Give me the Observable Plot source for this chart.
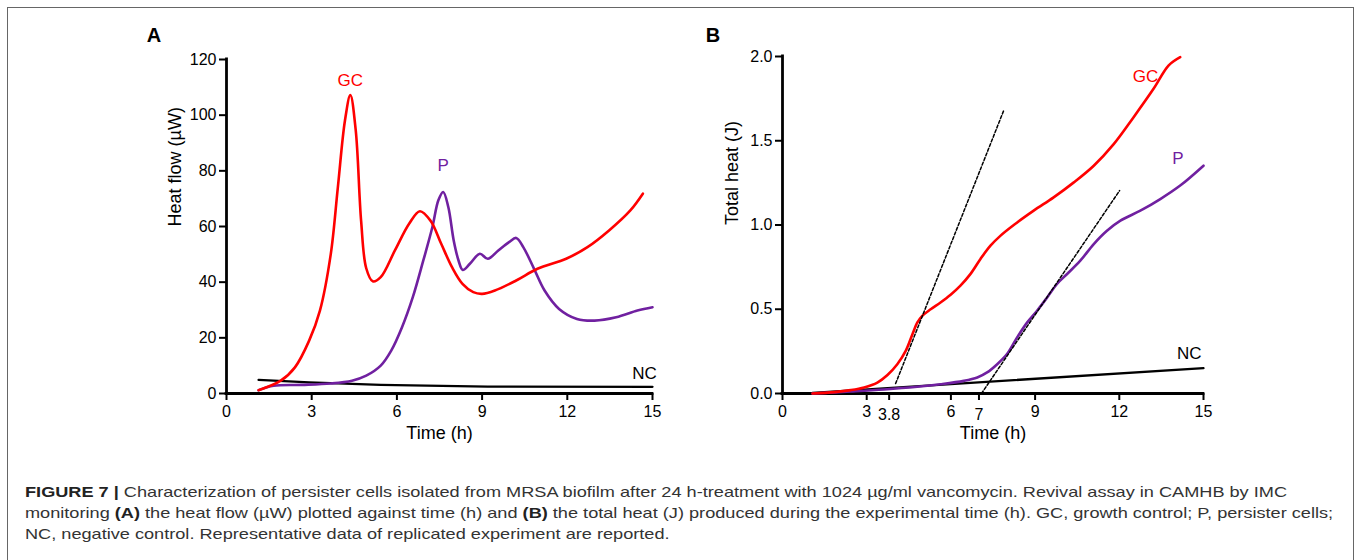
<!DOCTYPE html>
<html>
<head>
<meta charset="utf-8">
<script src="https://cdn.jsdelivr.net/npm/d3@7"></script>
<script src="https://cdn.jsdelivr.net/npm/@observablehq/plot@0.6"></script>
<style>
  html, body { margin: 0; padding: 0; background: #fff; width: 1357px; height: 560px; overflow: hidden; }
  body { position: relative; font-family: "Liberation Sans", Arial, sans-serif; }
  #frame { position: absolute; left: 7px; top: 7px; width: 1347px; height: 620px; border: 1.5px solid #666; box-sizing: border-box; }
  .panel { position: absolute; }
  .plabel { position: absolute; font-weight: bold; font-size: 20px; transform: translate(-50%, -50%); }
  #caption { position: absolute; left: 25px; top: 481px; font-size: 15px; line-height: 21px; color: #333; white-space: nowrap; transform-origin: 0 0; }
  #caption span { display: block; width: max-content; }
  #caption b { color: #222; }
</style>
</head>
<body>
<div id="frame"></div>
<div class="plabel" style="left:154px; top:35px;">A</div>
<div class="plabel" style="left:713px; top:35px;">B</div>
<div id="panelA" class="panel" style="left:130px; top:20px;"></div>
<div id="panelB" class="panel" style="left:700px; top:20px;"></div>
<div id="caption"><span id="cap1"><b>FIGURE 7 |</b> Characterization of persister cells isolated from MRSA biofilm after 24 h-treatment with 1024 µg/ml vancomycin. Revival assay in CAMHB by IMC</span><span>monitoring <b>(A)</b> the heat flow (µW) plotted against time (h) and <b>(B)</b> the total heat (J) produced during the experimental time (h). GC, growth control; P, persister cells;</span><span>NC, negative control. Representative data of replicated experiment are reported.</span></div>
<script>
// ---------- Data: panel A (heat flow, µW vs time, h) ----------
const flowGC = [[1.13,1.2],[1.91,4.6],[2.41,9.4],[2.91,19],[3.29,29.8],[3.67,50],[3.92,74],[4.17,98],[4.36,107.2],[4.55,94.6],[4.74,62],[4.92,45],[5.15,40.3],[5.43,41.8],[5.93,51.4],[6.43,61],[6.81,65.5],[7.19,62],[7.56,53.8],[7.94,45.4],[8.31,39.4],[8.69,36.4],[9.0,35.8],[9.45,37],[10.2,40.6],[10.95,44.8],[11.96,48.4],[12.71,52.6],[13.47,58.6],[14.22,65.8],[14.66,71.8]];
const flowP = [[1.13,1.2],[1.66,2.8],[2.66,3.1],[3.67,3.6],[4.42,4.6],[4.92,6.4],[5.43,10],[5.8,15.4],[6.18,23.8],[6.56,34.6],[6.93,47.8],[7.25,59.8],[7.46,69.4],[7.63,72.4],[7.81,67],[8.0,55],[8.17,47.8],[8.32,44.4],[8.57,46.6],[8.92,50.2],[9.2,48.4],[9.57,51.4],[9.95,54.4],[10.2,55.9],[10.45,52.6],[10.83,44.8],[11.2,37],[11.71,30.4],[12.34,26.8],[12.96,26.2],[13.72,27.4],[14.47,29.8],[15.0,31]];
const flowNC = [[1.13,4.9],[2.91,4.0],[5.43,3.1],[9.2,2.5],[15,2.4]];
const flowTicksX = [0,3,6,9,12,15];
const flowTicksY = [0,20,40,60,80,100,120];
const flowLabels = [
  {x: 4.36, y: 112.3, text: "GC", color: "#ff0000"},
  {x: 7.63, y: 82, text: "P", color: "#7020a0"},
  {x: 14.72, y: 7.2, text: "NC", color: "#000000"}
];

// ---------- Data: panel B (total heat, J vs time, h) ----------
const heatGC = [[1.07,0],[1.84,0.008],[2.43,0.02],[2.91,0.036],[3.38,0.065],[3.74,0.11],[4.09,0.174],[4.39,0.253],[4.63,0.352],[4.8,0.42],[4.98,0.461],[5.28,0.5],[5.63,0.54],[5.99,0.586],[6.34,0.64],[6.7,0.71],[7.06,0.8],[7.41,0.877],[7.77,0.937],[8.24,1.0],[8.95,1.085],[9.66,1.164],[10.38,1.253],[11.09,1.352],[11.8,1.48],[12.51,1.64],[13.22,1.808],[13.76,1.947],[14.17,1.996]];
const heatP = [[1.07,0],[2.43,0.012],[3.62,0.024],[4.8,0.04],[5.63,0.055],[6.46,0.075],[6.94,0.095],[7.29,0.125],[7.65,0.174],[8.0,0.234],[8.36,0.333],[8.72,0.422],[9.07,0.491],[9.43,0.57],[9.78,0.65],[10.14,0.709],[10.61,0.788],[11.09,0.887],[11.56,0.966],[12.04,1.026],[12.75,1.085],[13.46,1.154],[14.17,1.234],[15.0,1.352]];
const heatNC = [[1.07,0.004],[15,0.15]];
const tangentGC = [[4.03,0.059],[7.89,1.683]];
const tangentP = [[7.09,0],[12.01,1.204]];
const heatTicksX = [0,3,6,9,12,15];
const heatTicksXLow = [3.8,7];
const heatTicksY = [0,0.5,1.0,1.5,2.0];
const heatLabels = [
  {x: 12.93, y: 1.88, text: "GC", color: "#ff0000"},
  {x: 14.09, y: 1.394, text: "P", color: "#7020a0"},
  {x: 14.49, y: 0.236, text: "NC", color: "#000000"}
];

const FONT = "'Liberation Sans', Arial, Helvetica, sans-serif";
const RED = "#ff0000", PURPLE = "#7020a0";

function axesMarks(ticksX, ticksY, yFormat, extraX) {
  const m = [
    Plot.axisX({ticks: ticksX, tickSize: 7, tickPadding: 5, strokeWidth: 2, fontSize: 16, label: null, tickFormat: d => String(d)}),
    Plot.axisY({ticks: ticksY, tickSize: 7, tickPadding: 3, strokeWidth: 2, fontSize: 16, label: null, tickFormat: yFormat}),
  ];
  if (extraX) m.push(Plot.axisX({ticks: extraX, tickSize: 7, tickPadding: 8, strokeWidth: 2, fontSize: 16, label: null, tickFormat: d => String(d)}));
  m.push(Plot.ruleY([0], {strokeWidth: 2.8, strokeLinecap: "square"}));
  m.push(Plot.ruleX([0], {strokeWidth: 2.8, strokeLinecap: "square"}));
  return m;
}

const chartA = Plot.plot({
  width: 540, height: 430,
  marginLeft: 96, marginRight: 18, marginTop: 39, marginBottom: 57,
  x: {domain: [0, 15]},
  y: {domain: [0, 120]},
  style: {fontFamily: FONT, fontSize: "16px", color: "#000", background: "transparent", overflow: "visible"},
  marks: [
    ...axesMarks(flowTicksX, flowTicksY, d => String(d)),
    Plot.line(flowNC, {x: d => d[0], y: d => d[1], stroke: "#000", strokeWidth: 2.3}),
    Plot.line(flowP, {x: d => d[0], y: d => d[1], stroke: PURPLE, strokeWidth: 2.6, curve: "catmull-rom"}),
    Plot.line(flowGC, {x: d => d[0], y: d => d[1], stroke: RED, strokeWidth: 2.6, curve: "catmull-rom"}),
    Plot.text(flowLabels, {x: "x", y: "y", text: "text", fill: "color", fontSize: 17}),
    Plot.text(["Heat flow (µW)"], {frameAnchor: "left", text: d => d, rotate: -90, dx: -51, fontSize: 18, fill: "#000"}),
    Plot.text(["Time (h)"], {frameAnchor: "bottom", text: d => d, dy: 45, fontSize: 18, fill: "#000"})
  ]
});
document.getElementById("panelA").appendChild(chartA);

const chartB = Plot.plot({
  width: 540, height: 430,
  marginLeft: 82, marginRight: 37, marginTop: 36, marginBottom: 57,
  x: {domain: [0, 15]},
  y: {domain: [0, 2]},
  style: {fontFamily: FONT, fontSize: "16px", color: "#000", background: "transparent", overflow: "visible"},
  marks: [
    ...axesMarks(heatTicksX, heatTicksY, d3.format(".1f"), heatTicksXLow),
    Plot.line(heatNC, {x: d => d[0], y: d => d[1], stroke: "#000", strokeWidth: 2.3}),
    Plot.line(heatP, {x: d => d[0], y: d => d[1], stroke: PURPLE, strokeWidth: 2.6, curve: "catmull-rom"}),
    Plot.line(heatGC, {x: d => d[0], y: d => d[1], stroke: RED, strokeWidth: 2.6, curve: "catmull-rom"}),
    Plot.line(tangentGC, {x: d => d[0], y: d => d[1], stroke: "#000", strokeWidth: 1.5, strokeDasharray: "3,2"}),
    Plot.line(tangentP, {x: d => d[0], y: d => d[1], stroke: "#000", strokeWidth: 1.5, strokeDasharray: "3,2"}),
    Plot.text(heatLabels, {x: "x", y: "y", text: "text", fill: "color", fontSize: 17}),
    Plot.text(["Total heat (J)"], {frameAnchor: "left", text: d => d, rotate: -90, dx: -50, fontSize: 18, fill: "#000"}),
    Plot.text(["Time (h)"], {frameAnchor: "bottom", text: d => d, dy: 45, fontSize: 18, fill: "#000"})
  ]
});
document.getElementById("panelB").appendChild(chartB);

// stretch caption horizontally so the first line spans the same width as in the figure
const cap1 = document.getElementById("cap1");
const w = cap1.getBoundingClientRect().width;
if (w > 0) document.getElementById("caption").style.transform = `scaleX(${1262 / w})`;
</script>
</body>
</html>
